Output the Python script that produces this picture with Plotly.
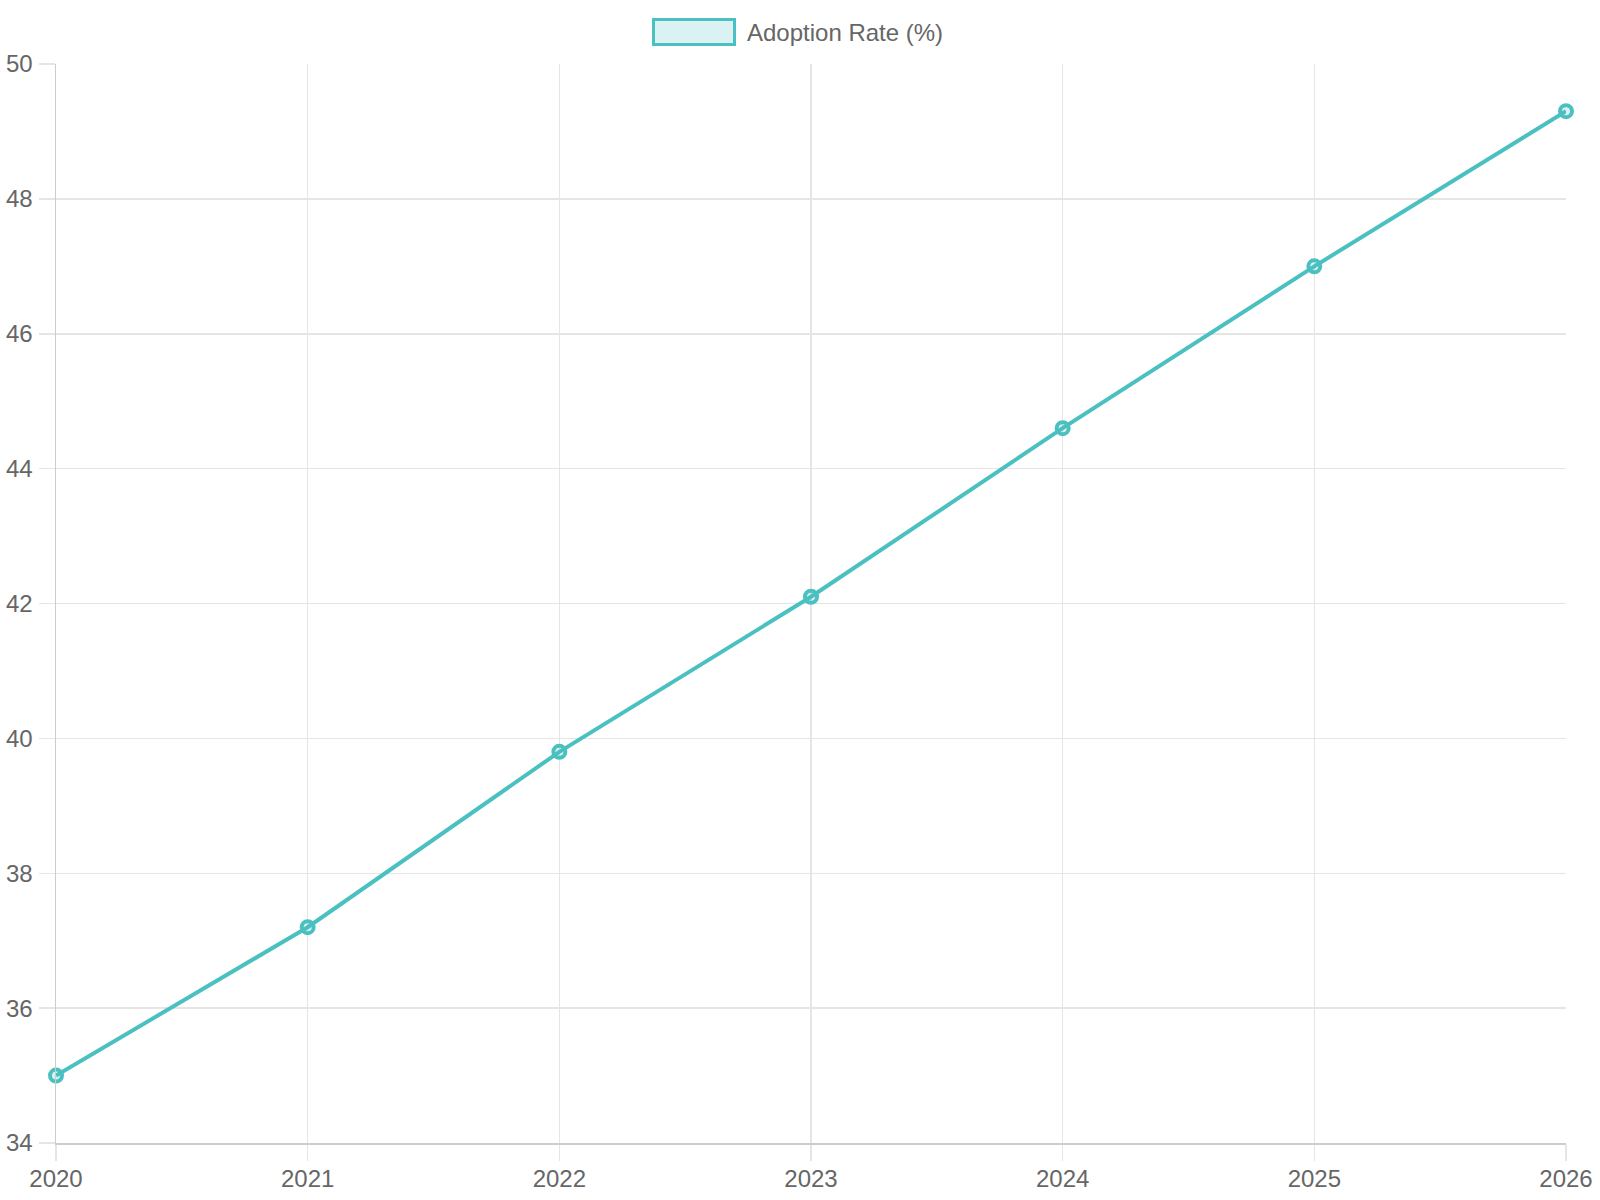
import plotly.graph_objects as go

years = [2020, 2021, 2022, 2023, 2024, 2025, 2026]
adoption_rate = [35.0, 37.2, 39.8, 42.1, 44.6, 47.0, 49.3]
series_name = "Adoption Rate (%)"
y_ticks = [34, 36, 38, 40, 42, 44, 46, 48, 50]

W, H = 1600, 1200
L, R, T, B = 56, 34, 64, 57
PW, PH = W - L - R, H - T - B

LINE = "rgb(75,192,192)"
FILL = "rgba(75,192,192,0.2)"
GRID = "#e5e5e5"
TEXT = "#666666"
FONT = "Liberation Sans, Arial, sans-serif"


def px_x(p):
    return (p - L) / PW


def px_y(p):
    return 1 + (T - p) / PH


fig = go.Figure()
fig.add_trace(go.Scatter(
    x=years, y=adoption_rate, name=series_name,
    mode="lines+markers",
    line=dict(color=LINE, width=4),
    marker=dict(size=12, color=FILL, line=dict(color=LINE, width=4)),
    cliponaxis=False, showlegend=False, hoverinfo="skip",
))

# legend (Chart.js style box + label)
fig.add_shape(type="rect", xref="paper", yref="paper",
              x0=px_x(653.5), x1=px_x(734.5), y0=px_y(44.5), y1=px_y(19.5),
              line=dict(color=LINE, width=3), fillcolor=FILL)
fig.add_annotation(xref="paper", yref="paper", x=px_x(745), y=px_y(32),
                   xanchor="left", yanchor="middle", showarrow=False,
                   text=series_name, font=dict(family=FONT, size=24, color=TEXT))

fig.update_layout(
    width=W, height=H,
    margin=dict(l=L, r=R, t=T, b=B, pad=0, autoexpand=False),
    paper_bgcolor="white", plot_bgcolor="white",
    font=dict(family=FONT, size=24, color=TEXT),
    showlegend=False, hovermode=False,
)
fig.update_xaxes(
    range=[years[0], years[-1]], tickmode="array", tickvals=years,
    ticktext=[str(y) for y in years],
    showgrid=True, gridcolor=GRID, gridwidth=1.5,
    ticks="outside", ticklen=16, tickcolor=GRID, tickwidth=1.5,
    showline=True, linecolor="#cccccc", linewidth=1.5,
    zeroline=False, ticklabelstandoff=-2, automargin=False,
)
fig.update_yaxes(
    range=[y_ticks[0], y_ticks[-1]], tickmode="array", tickvals=y_ticks,
    showgrid=True, gridcolor=GRID, gridwidth=1.5,
    ticks="outside", ticklen=16, tickcolor=GRID, tickwidth=1.5,
    showline=True, linecolor="#cccccc", linewidth=1.5,
    zeroline=False, ticklabelstandoff=1, automargin=False,
)

fig.write_html(
    "out.html",
    config={"displayModeBar": False, "staticPlot": True},
    post_script="document.body.style.margin='0';document.body.style.overflow='hidden';",
)
